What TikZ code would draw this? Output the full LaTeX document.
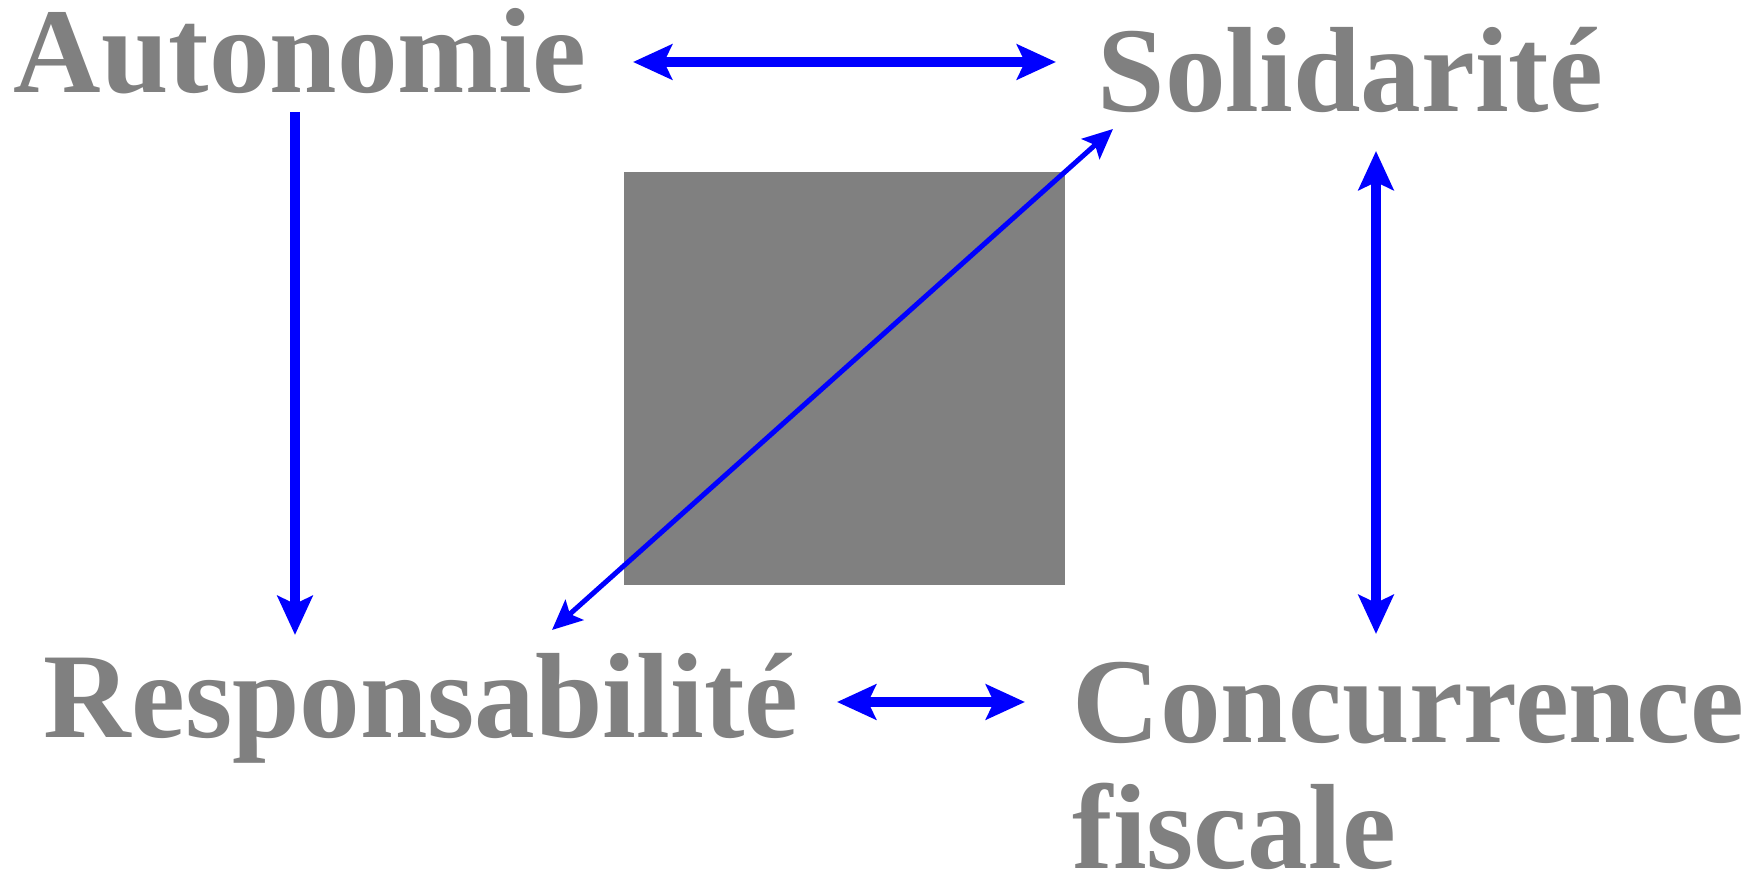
\documentclass[tikz,border=0pt]{standalone}
\usepackage{fontspec}
\setmainfont{Liberation Serif}
\usetikzlibrary{arrows.meta}

\begin{document}
\begin{tikzpicture}[x=0.1mm, y=-0.1mm,
		mot/.style={font=\fontsize{34.5}{36}\selectfont\bfseries, text=gray, inner sep=0pt, anchor=base west, align=left},
		grosse/.style={blue, line width=1mm, >={Stealth[length=3.9mm, width=3.5mm, inset=0.8mm]}},
		fine/.style={blue, line width=0.5mm, >={Stealth[length=3mm, width=2.7mm, inset=0.6mm]}}]
	\useasboundingbox (0,0) rectangle (1750,875);
	
	% === carré central ===
	\fill[gray] (624,172) rectangle (1065,585);
	
	% === les quatre notions ===
	\node[mot] (auto) at (13,93) {Autonomie};
	\node[mot] (soli) at (1097,112) {Solidarité};
	\node[mot] (resp) at (43,738) {Responsabilité};
	\node[mot] (conc) at (1072,869) {Concurrence\\fiscale};
	
	% === extrémités des flèches ===
	\coordinate (hautG) at (633,62);
	\coordinate (hautD) at (1056,62);
	\coordinate (gaucheH) at (295,112);
	\coordinate (gaucheB) at (295,635);
	\coordinate (droiteH) at (1376,151);
	\coordinate (droiteB) at (1376,634);
	\coordinate (basG) at (837,702);
	\coordinate (basD) at (1025,702);
	\coordinate (diagB) at (552,630);
	\coordinate (diagH) at (1113,129);
	
	% === flèches ===
	\draw[grosse, <->] (hautG) -- (hautD);
	\draw[grosse, ->] (gaucheH) -- (gaucheB);
	\draw[grosse, <->] (droiteH) -- (droiteB);
	\draw[grosse, <->] (basG) -- (basD);
	\draw[fine, <->] (diagB) -- (diagH);
\end{tikzpicture}
\end{document}
